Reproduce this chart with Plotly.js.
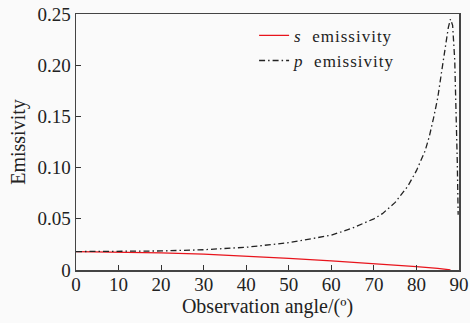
<!DOCTYPE html>
<html>
<head>
<meta charset="utf-8">
<script src="https://cdn.plot.ly/plotly-3.0.1.min.js"></script>
<style>
html,body{margin:0;padding:0;background:#fafafa;}
#chart{width:470px;height:323px;}
.legendtext{letter-spacing:1px;}
</style>
</head>
<body>
<div id="chart"></div>
<script>
// Observation angle (degrees) and emissivities
const sAngle = [0, 10, 20, 30, 40, 50, 60, 70, 80, 85, 88];
const sEmissivity = [0.0180, 0.0177, 0.0168, 0.0156, 0.0137, 0.0114, 0.0090, 0.0065, 0.0033, 0.0015, 0.0002];

const pAngle = [0, 10, 20, 30, 40, 50, 55, 60, 65, 68, 70, 72, 75, 78, 80, 82, 83, 84, 85, 86, 87, 87.5, 88, 88.5, 89, 89.3, 89.6, 89.8];
const pEmissivity = [0.0180, 0.0182, 0.0186, 0.0198, 0.0222, 0.0267, 0.0300, 0.0340, 0.0410, 0.0460, 0.0500, 0.0550, 0.0660, 0.0820, 0.0970, 0.1160, 0.1300, 0.1480, 0.1680, 0.1960, 0.2250, 0.2370, 0.2450, 0.2390, 0.2050, 0.1650, 0.1050, 0.0540];

const xTicks = [0, 10, 20, 30, 40, 50, 60, 70, 80, 90];
const yTicks = [0, 0.05, 0.10, 0.15, 0.20, 0.25];
const yTickText = ["0", "0.05", "0.10", "0.15", "0.20", "0.25"];

const serif = "Liberation Serif, Times New Roman, serif";

const traces = [
  {x: sAngle, y: sEmissivity, mode: "lines", name: "<i>s</i>  emissivity",
   line: {color: "#e8141c", width: 1.3}},
  {x: pAngle, y: pEmissivity, mode: "lines", name: "<i>p</i>  emissivity",
   line: {color: "#222222", width: 1.3, dash: "6px,3px,1.5px,3px"}}
];

const layout = {
  width: 470, height: 323,
  margin: {l: 76, r: 11, t: 14, b: 53},
  paper_bgcolor: "#fafafa", plot_bgcolor: "#fafafa",
  font: {family: serif, size: 19, color: "#222"},
  showlegend: true,
  legend: {x: 0.465, y: 0.985, xanchor: "left", yanchor: "top",
           bgcolor: "rgba(0,0,0,0)", font: {family: serif, size: 17, color: "#222"},
           tracegroupgap: 0, itemwidth: 30},
  xaxis: {range: [0, 90], tickvals: xTicks, ticks: "inside", ticklen: 5, tickwidth: 1.2,
          tickcolor: "#333", showline: true, linecolor: "#444", linewidth: 1.5, mirror: true,
          showgrid: false, zeroline: false, ticklabelstandoff: -3,
          title: {text: "Observation angle/(º)", font: {family: serif, size: 20}, standoff: 4}},
  yaxis: {range: [0, 0.25], tickvals: yTicks, ticktext: yTickText, ticks: "inside", ticklen: 5,
          tickwidth: 1.2, tickcolor: "#333", showline: true, linecolor: "#444", linewidth: 1.5,
          mirror: true, showgrid: false, zeroline: false,
          title: {text: "Emissivity", font: {family: serif, size: 20}, standoff: 6}}
};

Plotly.newPlot("chart", traces, layout, {displayModeBar: false, staticPlot: true});
</script>
</body>
</html>
